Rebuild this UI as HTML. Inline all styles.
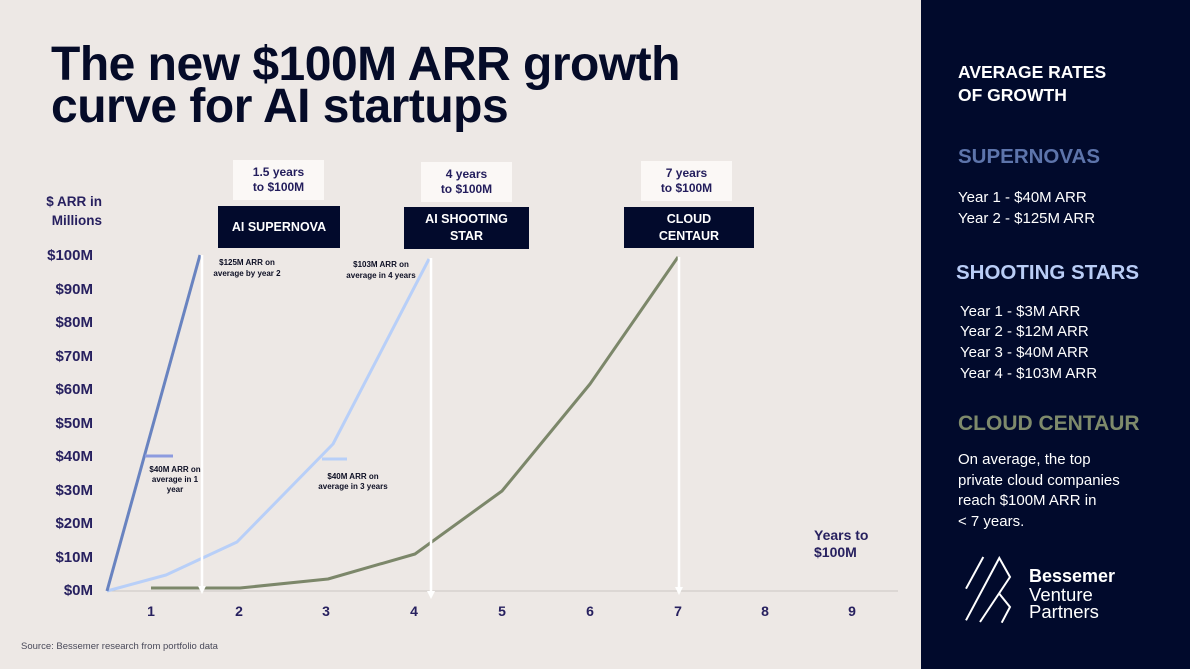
<!DOCTYPE html>
<html>
<head>
<meta charset="utf-8">
<style>
  html,body{margin:0;padding:0;}
  body{width:1190px;height:669px;position:relative;overflow:hidden;background:#ede8e5;font-family:"Liberation Sans",Arial,sans-serif;}
  .abs{position:absolute;white-space:nowrap;}
  .title{left:51px;top:44px;font-size:48px;line-height:42px;font-weight:bold;color:#050b28;letter-spacing:-0.5px;}
  .ylab{position:absolute;right:1097px;font-size:15px;line-height:18px;font-weight:bold;color:#27205f;text-align:right;white-space:nowrap;}
  .xlab{position:absolute;width:20px;font-size:14px;line-height:18px;font-weight:bold;color:#27205f;text-align:center;top:602px;}
  .lbox{position:absolute;background:#fbf8f6;color:#231d5c;font-weight:bold;font-size:12px;line-height:15px;text-align:center;display:flex;align-items:center;justify-content:center;}
  .dbox{position:absolute;background:#020a2c;color:#ffffff;font-weight:bold;font-size:12.5px;line-height:17px;text-align:center;display:flex;align-items:center;justify-content:center;}
  .ann{position:absolute;font-size:8px;font-weight:bold;color:#0d0f24;text-align:center;white-space:nowrap;transform:translateX(-50%);}
  .panel{position:absolute;left:921px;top:0;width:269px;height:669px;background:#010a2c;}
  .pt{position:absolute;white-space:nowrap;color:#fff;}
</style>
</head>
<body>

<div class="abs title">The new $100M ARR growth<br>curve for AI startups</div>

<!-- Y axis title -->
<div class="abs" style="right:1088px;top:192px;font-size:13.5px;line-height:19px;font-weight:bold;color:#27205f;text-align:right;">$ ARR in<br>Millions</div>

<!-- Y labels -->
<div class="ylab" style="top:247px;">$100M</div>
<div class="ylab" style="top:280.5px;">$90M</div>
<div class="ylab" style="top:314px;">$80M</div>
<div class="ylab" style="top:347.5px;">$70M</div>
<div class="ylab" style="top:381px;">$60M</div>
<div class="ylab" style="top:414.5px;">$50M</div>
<div class="ylab" style="top:448px;">$40M</div>
<div class="ylab" style="top:481.5px;">$30M</div>
<div class="ylab" style="top:515px;">$20M</div>
<div class="ylab" style="top:548.5px;">$10M</div>
<div class="ylab" style="top:582px;">$0M</div>

<!-- X labels -->
<div class="xlab" style="left:141px;">1</div>
<div class="xlab" style="left:229px;">2</div>
<div class="xlab" style="left:316px;">3</div>
<div class="xlab" style="left:404px;">4</div>
<div class="xlab" style="left:492px;">5</div>
<div class="xlab" style="left:580px;">6</div>
<div class="xlab" style="left:668px;">7</div>
<div class="xlab" style="left:755px;">8</div>
<div class="xlab" style="left:842px;">9</div>

<div class="abs" style="left:814px;top:527px;font-size:14px;line-height:17px;font-weight:bold;color:#27205f;">Years to<br>$100M</div>

<div class="abs" style="left:21px;top:641px;font-size:9.5px;line-height:12px;color:#4a4a5a;">Source: Bessemer research from portfolio data</div>

<!-- Chart lines -->
<svg class="abs" style="left:0;top:0;" width="920" height="669" viewBox="0 0 920 669">
  <line x1="107" y1="591" x2="898" y2="591" stroke="#cbc6c2" stroke-width="1"/>
  <polyline points="151,588 240,588 328,579 415,554 502,491 590,384 678,257" fill="none" stroke="#7c876a" stroke-width="3" stroke-linejoin="round"/>
  <polyline points="107,591 166,575 237,542 333,444 429,259" fill="none" stroke="#b8cff8" stroke-width="3" stroke-linejoin="round"/>
  <line x1="322" y1="459" x2="347" y2="459" stroke="#b8cff8" stroke-width="3"/>
  <line x1="107" y1="591" x2="200" y2="255" stroke="#6983c0" stroke-width="3"/>
  <line x1="145" y1="456" x2="173" y2="456" stroke="#8d9bdf" stroke-width="3"/>
  <!-- arrows -->
  <line x1="202" y1="255" x2="202" y2="587" stroke="#ffffff" stroke-width="2.5"/>
  <polygon points="198,586 206,586 202,594" fill="#ffffff"/>
  <line x1="431" y1="258" x2="431" y2="592" stroke="#ffffff" stroke-width="2.5"/>
  <polygon points="427,591 435,591 431,599" fill="#ffffff"/>
  <line x1="679" y1="257" x2="679" y2="588" stroke="#ffffff" stroke-width="2.5"/>
  <polygon points="675,587 683,587 679,595" fill="#ffffff"/>
</svg>

<!-- Boxes -->
<div class="lbox" style="left:233px;top:160px;width:91px;height:40px;">1.5 years<br>to $100M</div>
<div class="dbox" style="left:218px;top:206px;width:122px;height:42px;">AI SUPERNOVA</div>
<div class="lbox" style="left:421px;top:162px;width:91px;height:40px;">4 years<br>to $100M</div>
<div class="dbox" style="left:404px;top:207px;width:125px;height:42px;">AI SHOOTING<br>STAR</div>
<div class="lbox" style="left:641px;top:161px;width:91px;height:40px;">7 years<br>to $100M</div>
<div class="dbox" style="left:624px;top:207px;width:130px;height:41px;">CLOUD<br>CENTAUR</div>

<!-- Annotations -->
<div class="ann" style="left:247px;top:256.5px;line-height:11px;">$125M ARR on<br>average by year 2</div>
<div class="ann" style="left:381px;top:258.5px;line-height:11px;">$103M ARR on<br>average in 4 years</div>
<div class="ann" style="left:175px;top:465px;line-height:10.2px;">$40M ARR on<br>average in 1<br>year</div>
<div class="ann" style="left:353px;top:471.5px;line-height:10.5px;">$40M ARR on<br>average in 3 years</div>

<!-- Right panel -->
<div class="panel"></div>
<div class="pt" style="left:958px;top:60.5px;font-size:17.5px;line-height:23px;font-weight:bold;">AVERAGE RATES<br>OF GROWTH</div>
<div class="pt" style="left:958px;top:145px;font-size:20.5px;line-height:24px;font-weight:bold;color:#5d74ab;">SUPERNOVAS</div>
<div class="pt" style="left:958px;top:186.5px;font-size:15px;line-height:21px;">Year 1 - $40M ARR<br>Year 2 - $125M ARR</div>
<div class="pt" style="left:956px;top:261px;font-size:20.5px;line-height:24px;font-weight:bold;color:#b9cdf6;">SHOOTING STARS</div>
<div class="pt" style="left:960px;top:301.5px;font-size:15px;line-height:20.7px;">Year 1 - $3M ARR<br>Year 2 - $12M ARR<br>Year 3 - $40M ARR<br>Year 4 - $103M ARR</div>
<div class="pt" style="left:958px;top:412px;font-size:21px;line-height:24px;font-weight:bold;color:#7e8a6b;">CLOUD CENTAUR</div>
<div class="pt" style="left:958px;top:450px;font-size:15px;line-height:20.7px;">On average, the top<br>private cloud companies<br>reach $100M ARR in<br>&lt; 7 years.</div>

<!-- Logo -->
<svg class="abs" style="left:950px;top:550px;" width="80" height="80" viewBox="950 550 80 80">
  <line x1="983.3" y1="557" x2="966" y2="588.7" stroke="#fff" stroke-width="2"/>
  <polyline points="966,620.3 999.3,558 1010,577 980,622" fill="none" stroke="#fff" stroke-width="2"/>
  <polyline points="999.3,593.7 1010,607 1001.7,622.7" fill="none" stroke="#fff" stroke-width="2"/>
</svg>
<div class="pt" style="left:1029px;top:566px;font-size:18px;line-height:21px;font-weight:bold;">Bessemer</div>
<div class="pt" style="left:1029px;top:585.5px;font-size:18.5px;line-height:17.5px;">Venture<br>Partners</div>

</body>
</html>
